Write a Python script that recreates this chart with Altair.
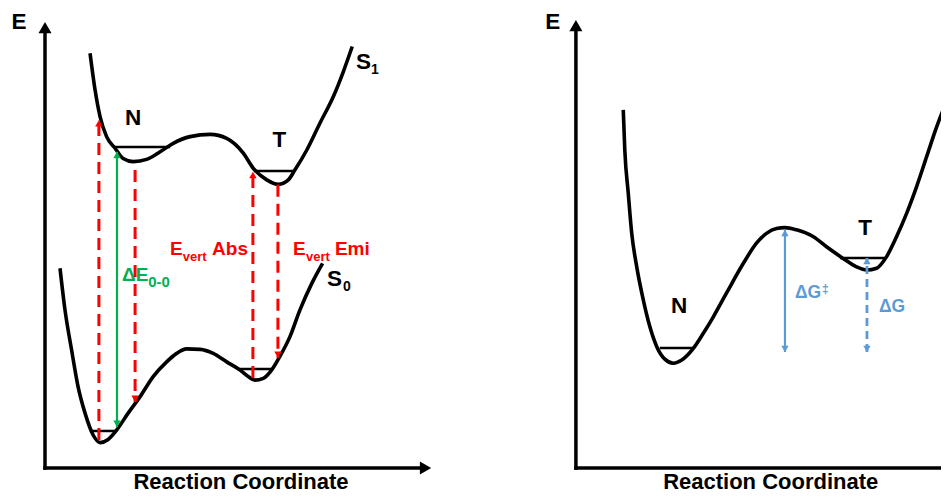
import altair as alt
import pandas as pd

# ---------------- data (reaction coordinate 0-100 along each x axis, energy 0-100 along each E axis)
# Left panel: excited state S1 and ground state S0
S1_RC = [11.7, 13.0, 14.3, 16.0, 18.2, 20.3, 22.9, 26.4, 29.9, 33.3, 37.7, 42.9, 47.2, 51.5,
         54.1, 57.6, 60.6, 63.2, 64.9, 68.0, 71.4, 74.9, 77.5, 79.8]
S1_E = [93.0, 84.8, 78.8, 74.3, 71.7, 69.4, 68.7, 69.2, 70.9, 72.8, 74.3, 74.8, 73.9, 70.6,
        67.2, 64.6, 63.6, 64.6, 66.8, 71.3, 77.3, 83.3, 88.9, 94.5]
S0_RC = [3.9, 5.2, 6.9, 8.6, 10.4, 12.5, 14.3, 16.4, 18.6, 21.6, 24.7, 28.1, 31.6, 34.2, 36.8,
         40.3, 43.7, 47.2, 50.6, 52.8, 54.5, 56.7, 58.9, 61.0, 63.6, 66.2, 69.3, 72.1]
S0_E = [44.8, 35.4, 26.5, 18.2, 12.3, 7.4, 5.7, 6.4, 8.5, 12.3, 16.0, 20.5, 23.8, 25.7, 26.7,
        26.6, 25.7, 23.8, 22.0, 20.5, 19.7, 20.1, 22.0, 25.0, 29.4, 35.4, 41.4, 45.9]
# Right panel: free-energy profile
G_RC = [12.3, 12.7, 13.6, 14.5, 15.8, 17.5, 19.2, 21.0, 23.1, 25.3, 27.5, 30.5, 33.1, 35.7,
        39.1, 43.5, 46.9, 49.5, 52.1, 54.3, 57.3, 61.6, 65.1, 69.4, 72.9, 75.5, 78.1, 80.7,
        83.3, 85.9, 88.5, 91.1, 93.7, 95.4, 96.7]
G_E = [80.3, 71.3, 61.6, 52.6, 45.1, 37.7, 31.7, 27.2, 24.4, 23.5, 24.2, 26.8, 30.2, 33.9,
       39.2, 45.9, 50.4, 52.6, 53.7, 53.9, 53.4, 51.9, 49.6, 47.0, 45.1, 44.4, 44.8, 47.4,
       51.9, 57.1, 63.1, 69.8, 76.5, 80.3, 82.5]

# vibrational ground levels (N and T minima)
LEVEL_PANEL = ["A", "A", "A", "A", "B", "B"]
LEVEL_RC_FROM = [18.2, 54.5, 11.8, 49.9, 21.8, 68.6]
LEVEL_RC_TO = [32.5, 64.4, 18.7, 59.2, 30.4, 80.3]
LEVEL_E = [72.0, 66.6, 8.3, 22.2, 26.9, 47.1]

# transition / energy-gap arrows
ARROW_PANEL = ["A", "A", "A", "A", "A", "B", "B"]
ARROW_KIND = ["red", "red", "red", "red", "green", "blue", "blue_dash"]
ARROW_RC = [14.0, 23.4, 54.0, 60.5, 18.7, 54.3, 75.6]
ARROW_E_FROM = [6.3, 66.8, 20.2, 63.5, 9.2, 26.0, 26.0]
ARROW_E_TO = [78.0, 14.8, 66.4, 24.7, 70.9, 53.4, 47.1]
ARROW_BOTH_ENDS = [False, False, False, False, True, True, True]

# axes
AXIS_PANEL = ["A", "A", "B", "B"]
AXIS_RC_TO = [0, 97.0, 0, 100.0]
AXIS_E_TO = [97.5, 0, 97.8, 0]
TIP_PANEL = ["A", "A", "B"]
TIP_RC = [0, 100.3, 0]
TIP_E = [100.0, 0, 100.45]
TIP_DIR = ["up", "right", "up"]

# labels
LABEL_PANEL = ["A", "B", "A", "A", "A", "A", "B", "B",
               "A", "B",
               "A", "A",
               "A", "A", "A", "A",
               "A", "A",
               "A", "A",
               "B", "B", "B"]
LABEL_TEXT = ["E", "E", "N", "T", "S", "S", "N", "T",
              "Reaction Coordinate", "Reaction Coordinate",
              "1", "0",
              "E", "Abs", "E", "Emi",
              "vert", "vert",
              "ΔE", "0-0",
              "ΔG", "ΔG", "‡"]
LABEL_RC = [-6.75, -6.0, 22.9, 60.9, 82.7, 75.2, 26.8, 75.1,
            50.9, 50.6,
            84.7, 77.4,
            32.5, 43.4, 64.4, 75.3,
            35.8, 67.8,
            20.0, 26.8,
            56.9, 78.7, 63.9]
LABEL_E = [100.0, 100.0, 78.5, 73.6, 91.1, 42.3, 36.4, 53.9,
           -3.2, -3.2,
           89.2, 40.6,
           49.2, 49.2, 49.2, 49.2,
           47.3, 47.3,
           43.3, 41.6,
           39.2, 36.2, 40.1]
LABEL_STYLE = ["big"] * 8 + ["title"] * 2 + ["sub"] * 2 + ["red"] * 4 + ["red_sub"] * 2 + \
              ["green", "green_sub"] + ["blue", "blue", "blue_sup"]

# ---------------- frames
PANEL_B_SHIFT = 137.9
X_DOMAIN = [-9.61, 232.73]
Y_DOMAIN = [-5.83, 103.14]
RED = "#ff0000"
GREEN = "#00b050"
BLUE = "#5b9bd5"
FONT = "Liberation Sans"

xs = alt.Scale(domain=X_DOMAIN, nice=False, zero=False)
ys = alt.Scale(domain=Y_DOMAIN, nice=False, zero=False)


def shift(field, out):
    return {out: f"datum.{field} + (datum.panel == 'B' ? {PANEL_B_SHIFT} : 0)"}


def X(f="X"):
    return alt.X(f"{f}:Q", scale=xs, axis=None)


def Y(f="E"):
    return alt.Y(f"{f}:Q", scale=ys, axis=None)


# curves
rows = []
for name, panel, rcs, es in [("S1", "A", S1_RC, S1_E), ("S0", "A", S0_RC, S0_E), ("G", "B", G_RC, G_E)]:
    for i, (r, e) in enumerate(zip(rcs, es)):
        rows.append({"curve": name, "panel": panel, "i": i, "rc": r, "E": e})
curves = pd.DataFrame(rows)

curve_layer = alt.Chart(curves).transform_calculate(**shift("rc", "X")).mark_line(
    interpolate="monotone", color="black", strokeWidth=3.6, clip=True
).encode(x=X(), y=Y(), detail="curve:N", order="i:Q")

levels = pd.DataFrame({"panel": LEVEL_PANEL, "rc": LEVEL_RC_FROM, "rc2": LEVEL_RC_TO, "E": LEVEL_E})
level_layer = alt.Chart(levels).transform_calculate(**shift("rc", "X"), **shift("rc2", "X2")).mark_rule(
    color="black", strokeWidth=2.5
).encode(x=X(), x2="X2:Q", y=Y())

axes = pd.DataFrame({"panel": AXIS_PANEL, "rc": [0] * 4, "rc2": AXIS_RC_TO, "E": [0] * 4, "E2": AXIS_E_TO})
axis_layer = alt.Chart(axes).transform_calculate(**shift("rc", "X"), **shift("rc2", "X2")).mark_rule(
    color="black", strokeWidth=3.5, strokeCap="square", clip=True
).encode(x=X(), x2="X2:Q", y=Y(), y2="E2:Q")

tips = pd.DataFrame({"panel": TIP_PANEL, "rc": TIP_RC, "E": TIP_E, "dir": TIP_DIR})
tip_up = alt.Chart(tips).transform_calculate(**shift("rc", "X")).transform_filter(
    "datum.dir == 'up'").mark_point(shape="triangle-up", size=170, filled=True, opacity=1,
                                    color="black", yOffset=5.6).encode(x=X(), y=Y())
tip_right = alt.Chart(tips).transform_calculate(**shift("rc", "X")).transform_filter(
    "datum.dir == 'right'").mark_point(shape="triangle-right", size=170, filled=True, opacity=1,
                                       color="black", xOffset=-5.6).encode(x=X(), y=Y())

arrows = pd.DataFrame({"panel": ARROW_PANEL, "kind": ARROW_KIND, "rc": ARROW_RC,
                       "E": ARROW_E_FROM, "E2": ARROW_E_TO})
heads_rows = []
for p, k, r, e0, e1, both in zip(ARROW_PANEL, ARROW_KIND, ARROW_RC, ARROW_E_FROM, ARROW_E_TO, ARROW_BOTH_ENDS):
    heads_rows.append({"panel": p, "kind": k, "rc": r, "E": e1, "dir": "up" if e1 > e0 else "down"})
    if both:
        heads_rows.append({"panel": p, "kind": k, "rc": r, "E": e0, "dir": "down" if e1 > e0 else "up"})
heads = pd.DataFrame(heads_rows)

arrow_styles = {
    "red": dict(color=RED, strokeWidth=3, strokeDash=[12, 7]),
    "green": dict(color=GREEN, strokeWidth=2.2),
    "blue": dict(color=BLUE, strokeWidth=2.2),
    "blue_dash": dict(color=BLUE, strokeWidth=2.8, strokeDash=[8, 5]),
}
arrow_layers = []
for kind, st in arrow_styles.items():
    arrow_layers.append(
        alt.Chart(arrows).transform_calculate(**shift("rc", "X")).transform_filter(
            f"datum.kind == '{kind}'").mark_rule(**st).encode(x=X(), y=Y(), y2="E2:Q"))
    for d in ["up", "down"]:
        arrow_layers.append(
            alt.Chart(heads).transform_calculate(**shift("rc", "X")).transform_filter(
                f"datum.kind == '{kind}' && datum.dir == '{d}'").mark_point(
                shape=f"triangle-{d}", size=55, filled=True, opacity=1, color=st["color"],
                yOffset=3.2 if d == "up" else -3.2).encode(x=X(), y=Y()))

labels = pd.DataFrame({"panel": LABEL_PANEL, "text": LABEL_TEXT, "rc": LABEL_RC, "E": LABEL_E,
                       "style": LABEL_STYLE})
text_styles = {
    "big": dict(fontSize=22.5, color="black", align="center"),
    "title": dict(fontSize=22, color="black", align="center"),
    "sub": dict(fontSize=14, color="black", align="left"),
    "red": dict(fontSize=19, color=RED, align="left"),
    "red_sub": dict(fontSize=13, color=RED, align="left"),
    "green": dict(fontSize=19, color=GREEN, align="left"),
    "green_sub": dict(fontSize=15, color=GREEN, align="left"),
    "blue": dict(fontSize=17.5, color=BLUE, align="left"),
    "blue_sup": dict(fontSize=12, color=BLUE, align="left"),
}
text_layers = []
for style, st in text_styles.items():
    text_layers.append(
        alt.Chart(labels).transform_calculate(**shift("rc", "X")).transform_filter(
            f"datum.style == '{style}'").mark_text(font=FONT, fontWeight="bold", baseline="middle", **st)
        .encode(x=X(), y=Y(), text="text:N"))

chart = alt.layer(
    curve_layer, level_layer, axis_layer, tip_up, tip_right, *arrow_layers, *text_layers
).properties(
    width=933, height=486, autosize=alt.AutoSizeParams(type="none"), padding=0
).configure_view(strokeWidth=0)

chart.save("out.html", embed_options={"renderer": "svg", "actions": False})
